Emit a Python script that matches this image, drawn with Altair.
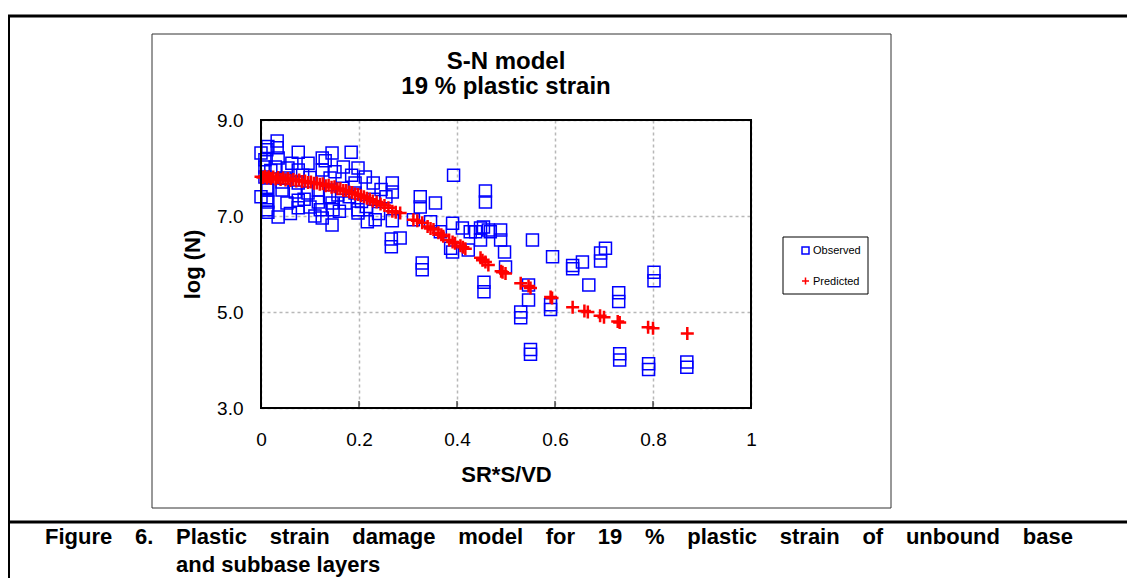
import altair as alt
import pandas as pd

# ---------------- data ----------------
obs_x = [0.000, 0.008, 0.008, 0.008, 0.012, 0.014, 0.012, 0.014, 0.012, 0.014, 0.012, 0.014, 0.000,
         0.029, 0.033, 0.033, 0.035, 0.035, 0.043, 0.043, 0.049, 0.053, 0.063, 0.070, 0.076, 0.076,
         0.076, 0.076, 0.076, 0.096, 0.096, 0.100, 0.100, 0.117, 0.117, 0.121, 0.125, 0.125, 0.125,
         0.131, 0.141, 0.145, 0.145, 0.147, 0.145, 0.151, 0.157, 0.166, 0.168, 0.172, 0.184, 0.192,
         0.192, 0.198, 0.198, 0.198, 0.213, 0.217, 0.229, 0.233, 0.268, 0.268, 0.268,
         0.060, 0.088, 0.110, 0.160, 0.180, 0.205, 0.215, 0.245, 0.255, 0.240, 0.230, 0.020, 0.055,
         0.085, 0.140, 0.185,
         0.325, 0.325, 0.356, 0.266, 0.266, 0.284, 0.329, 0.329, 0.311, 0.346, 0.366, 0.387, 0.391,
         0.391, 0.393, 0.411, 0.423, 0.438, 0.448, 0.454, 0.455, 0.455, 0.458, 0.458, 0.464, 0.468,
         0.489, 0.489, 0.497, 0.499, 0.448, 0.427,
         0.546, 0.546, 0.530, 0.530, 0.554, 0.595, 0.591, 0.591, 0.550, 0.550, 0.636, 0.636, 0.656,
         0.669, 0.693, 0.693, 0.703, 0.730, 0.730, 0.732, 0.732, 0.791, 0.791, 0.802, 0.802, 0.869,
         0.869]
obs_y = [8.31, 8.17, 8.02, 7.81, 8.38, 8.45, 7.60, 7.54, 7.33, 7.29, 7.13, 7.08, 7.40,
         8.02, 8.56, 8.42, 8.21, 6.98, 7.71, 7.54, 7.79, 7.27, 8.10, 7.50, 8.33, 7.96,
         7.69, 7.33, 7.17, 8.10, 7.48, 7.19, 7.80, 7.54, 7.29, 7.13, 8.21, 7.96, 6.96,
         8.15, 7.79, 8.31, 7.27, 7.13, 6.81, 7.92, 7.44, 7.58, 8.02, 7.27, 8.33, 7.69,
         7.48, 8.00, 7.13, 7.06, 7.81, 6.88, 7.69, 6.92, 7.69, 7.50, 6.90,
         7.05, 7.35, 7.00, 7.10, 7.40, 7.30, 7.20, 7.55, 7.40, 7.05, 7.35, 7.95, 8.00,
         7.85, 7.40, 7.85,
         7.40, 7.19, 7.27, 6.52, 6.36, 6.54, 6.02, 5.88, 6.92, 6.88, 6.67, 6.33, 6.85,
         6.25, 7.85, 6.75, 6.29, 6.67, 6.50, 6.77, 5.62, 5.42, 7.52, 7.29, 6.71, 6.67,
         6.71, 6.50, 6.25, 5.94, 6.75, 6.67,
         5.56, 5.25, 5.00, 4.88, 6.50, 6.15, 5.15, 5.05, 4.22, 4.12, 5.97, 5.90, 6.04,
         5.56, 6.23, 6.06, 6.33, 5.40, 5.22, 4.13, 4.00, 3.92, 3.80, 5.83, 5.65, 3.96,
         3.85]

pred_x = [0.000, 0.004, 0.008, 0.012, 0.016, 0.020, 0.025, 0.030, 0.035, 0.040, 0.045, 0.050,
          0.055, 0.060, 0.066, 0.072, 0.078, 0.084, 0.090, 0.096, 0.102, 0.108, 0.114, 0.120,
          0.126, 0.132, 0.138, 0.144, 0.150, 0.156, 0.162, 0.168, 0.174, 0.180, 0.186, 0.192,
          0.198, 0.204, 0.210, 0.216, 0.222, 0.228, 0.236, 0.244, 0.252, 0.260, 0.268, 0.275,
          0.284, 0.311, 0.319, 0.329, 0.340, 0.346, 0.352, 0.362, 0.368, 0.372, 0.384, 0.391,
          0.396, 0.407, 0.412, 0.417, 0.448, 0.452, 0.458, 0.464, 0.490, 0.493, 0.499, 0.530,
          0.546, 0.550, 0.591, 0.594, 0.636, 0.660, 0.667, 0.692, 0.700, 0.728, 0.732, 0.790,
          0.800, 0.870]
pred_y = [7.82, 7.80, 7.83, 7.79, 7.82, 7.78, 7.81, 7.77, 7.80, 7.76, 7.79, 7.75,
          7.78, 7.74, 7.76, 7.73, 7.75, 7.72, 7.73, 7.70, 7.71, 7.68, 7.69, 7.66,
          7.67, 7.63, 7.64, 7.60, 7.61, 7.57, 7.57, 7.53, 7.53, 7.50, 7.49, 7.46,
          7.45, 7.42, 7.40, 7.37, 7.35, 7.31, 7.29, 7.25, 7.22, 7.17, 7.10, 7.08,
          7.06, 6.92, 6.90, 6.86, 6.78, 6.74, 6.72, 6.65, 6.61, 6.58, 6.50, 6.46,
          6.43, 6.38, 6.35, 6.32, 6.13, 6.08, 6.04, 5.98, 5.85, 5.83, 5.80, 5.60,
          5.54, 5.50, 5.31, 5.29, 5.10, 5.02, 5.00, 4.92, 4.89, 4.80, 4.78, 4.68,
          4.66, 4.55]

series_names = ["Observed", "Predicted"]
series_colors = ["#0000ff", "#ff0000"]
x_ticks = [0, 0.2, 0.4, 0.6, 0.8, 1]
inner_x_ticks = [0.2, 0.4, 0.6, 0.8]
y_ticks = [3, 5, 7, 9]

title_lines = ["S-N model", "19 % plastic strain"]
x_title = "SR*S/VD"
y_title = "log (N)"
caption_label = "Figure 6."
caption_line1 = "Plastic strain damage model for 19 % plastic strain of unbound base"
caption_line2 = "and subbase layers"

# ---------------- chart ----------------
df_obs = pd.DataFrame({"x": obs_x, "y": obs_y, "series": series_names[0]})
df_pred = pd.DataFrame({"x": pred_x, "y": pred_y, "series": series_names[1]})

W, H = 490, 288
FONT = "Liberation Sans"
PLUS = "M-1,0L1,0M0,-1L0,1"
NB = "\u00a0"
THIN = "\u2009"
one = pd.DataFrame({"k": [0]})

xscale = alt.Scale(domain=[0, 1], nice=False, zero=False)
yscale = alt.Scale(domain=[3, 9], nice=False, zero=False)
xaxis = alt.Axis(values=x_ticks, format="~g", title=x_title, labelFlush=False)
yaxis = alt.Axis(values=y_ticks, format=".1f", title=y_title, labelFlush=False)


def series_layer(data, color, shape, size, sw):
    return alt.Chart(data).mark_point(
        filled=False, opacity=1, color=color, shape=shape, size=size, strokeWidth=sw
    ).encode(
        x=alt.X("x:Q", scale=xscale, axis=xaxis),
        y=alt.Y("y:Q", scale=yscale, axis=yaxis),
    )


obs_layer = series_layer(df_obs, series_colors[0], "square", 144, 1.5)
pred_layer = series_layer(df_pred, series_colors[1], PLUS, 169, 2.5)

ticks = alt.Chart(pd.DataFrame({"x": inner_x_ticks})).mark_rule(
    color="black", strokeWidth=1
).encode(
    x=alt.X("x:Q", scale=xscale, axis=xaxis),
    y=alt.value(H),
    y2=alt.value(H - 7),
)

border = alt.Chart(one).mark_rect(fillOpacity=0, stroke="black", strokeWidth=2).encode(
    x=alt.value(0), x2=alt.value(W), y=alt.value(0), y2=alt.value(H)
)

box = alt.Chart(one).mark_rect(fillOpacity=0, stroke="#333333", strokeWidth=1).encode(
    x=alt.value(-109), x2=alt.value(630), y=alt.value(-86), y2=alt.value(388)
)

legend_box = alt.Chart(one).mark_rect(fillOpacity=0, stroke="black", strokeWidth=1).encode(
    x=alt.value(522), x2=alt.value(607), y=alt.value(117), y2=alt.value(174)
)


def legend_symbol(color, shape, y, sw):
    return alt.Chart(one).mark_point(
        filled=False, opacity=1, color=color, shape=shape, size=49, strokeWidth=sw
    ).encode(x=alt.value(544.5), y=alt.value(y))


def hline(y, x1, x2, w):
    return alt.Chart(one).mark_rule(color="black", strokeWidth=w).encode(
        x=alt.value(x1), x2=alt.value(x2), y=alt.value(y))


def vline(x, y1, y2, w):
    return alt.Chart(one).mark_rule(color="black", strokeWidth=w).encode(
        x=alt.value(x), y=alt.value(y1), y2=alt.value(y2))


def text(s, x, y, size, align="center", weight="bold"):
    return alt.Chart(one).mark_text(
        font=FONT, fontSize=size, fontWeight=weight, align=align,
        baseline="middle", color="black"
    ).encode(x=alt.value(x), y=alt.value(y), text=alt.value(s))


# justified first caption line: widen each word gap
gap = " " + NB * 2 + THIN
caption_label_j = caption_label.replace(" ", gap)
caption_line1_j = caption_line1.replace(" ", gap)

layers = [
    box,
    hline(-104, -253, 866, 3),
    vline(-252, -104, 458, 2),
    hline(402, -253, 866, 3),
    obs_layer,
    pred_layer,
    ticks,
    border,
    legend_box,
    legend_symbol(series_colors[0], "square", 130.5, 1.5),
    legend_symbol(series_colors[1], PLUS, 161, 1.5),
    text(series_names[0], 552, 131, 11, align="left", weight="normal"),
    text(series_names[1], 552, 161.5, 11, align="left", weight="normal"),
    text(title_lines[0], W / 2, -58, 24),
    text(title_lines[1], W / 2, -33, 24),
    text(caption_label_j, -216, 417, 22, align="left"),
    text(caption_line1_j, -85, 417, 22, align="left"),
    text(caption_line2, -85, 445, 22, align="left"),
]

chart = alt.layer(*layers).properties(
    width=W, height=H,
    autosize=alt.AutoSizeParams(type="none"),
    padding={"left": 253, "top": 112, "right": 376, "bottom": 170},
).configure_view(
    stroke="transparent"
).configure_axis(
    labelFont=FONT, labelFontSize=19, labelColor="black",
    titleFont=FONT, titleFontSize=22, titleFontWeight="bold", titleColor="black",
    domain=False, ticks=False,
    grid=True, gridDash=[3, 3], gridColor="#b8b8b8", gridWidth=1.5,
).configure_axisX(
    labelPadding=22, titlePadding=15,
).configure_axisY(
    labelPadding=18, titlePadding=12,
)

chart.save("out.html", embed_options={"renderer": "svg", "actions": False})
